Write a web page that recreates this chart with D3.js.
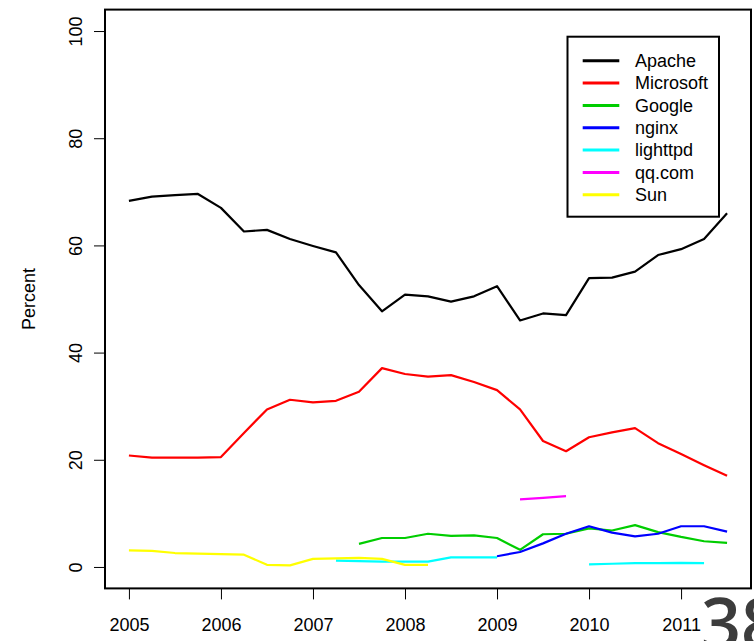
<!DOCTYPE html>
<html><head><meta charset="utf-8">
<script src="https://cdn.jsdelivr.net/npm/d3@7"></script>
<style>body{margin:0;background:#fff}svg{display:block}</style>
</head><body>
<svg id="c" width="754" height="641"></svg>
<script>
// Quarterly dates 2005.0 .. 2011.5
const quarters = [2005.0,2005.25,2005.5,2005.75,2006.0,2006.25,2006.5,2006.75,2007.0,2007.25,2007.5,2007.75,2008.0,2008.25,2008.5,2008.75,2009.0,2009.25,2009.5,2009.75,2010.0,2010.25,2010.5,2010.75,2011.0,2011.25,2011.5];
const apache    = [68.3,69.1,69.4,69.6,67.0,62.6,62.9,61.2,59.9,58.7,52.6,47.7,50.8,50.5,49.5,50.5,52.4,46.0,47.3,47.0,53.9,54.0,55.1,58.2,59.3,61.2,66.0];
const microsoft = [20.8,20.4,20.4,20.4,20.5,25.0,29.4,31.2,30.7,31.0,32.7,37.1,36.0,35.5,35.8,34.5,33.0,29.4,23.5,21.6,24.2,25.1,25.9,23.1,21.1,19.0,17.0];
const google    = [null,null,null,null,null,null,null,null,null,null,4.3,5.4,5.4,6.2,5.8,5.9,5.4,3.2,6.1,6.2,7.2,6.8,7.8,6.5,5.6,4.8,4.5];
const nginx     = [null,null,null,null,null,null,null,null,null,null,null,null,null,null,null,null,2.0,2.8,4.4,6.2,7.6,6.4,5.7,6.2,7.6,7.6,6.6];
const lighttpd  = [null,null,null,null,null,null,null,null,null,1.2,1.1,1.0,1.0,1.0,1.8,1.8,1.8,null,null,null,0.5,0.6,0.7,0.7,0.75,0.7,null];
const qqcom     = [null,null,null,null,null,null,null,null,null,null,null,null,null,null,null,null,null,12.6,12.9,13.2,null,null,null,null,null,null,null];
const sun       = [3.1,3.0,2.6,2.5,2.4,2.3,0.4,0.3,1.5,1.6,1.7,1.5,0.4,0.4,null,null,null,null,null,null,null,null,null,null,null,null,null];
const seriesNames = ["Apache","Microsoft","Google","nginx","lighttpd","qq.com","Sun"];
const seriesColors = ["#000000","#ff0000","#00cd00","#0000ff","#00ffff","#ff00ff","#ffff00"];
const xTicks = [2005,2006,2007,2008,2009,2010,2011];
const yTicks = [0,20,40,60,80,100];
const yLabel = "Percent";
const pageNumber = "38";

const allSeries = [apache,microsoft,google,nginx,lighttpd,qqcom,sun];
const svg = d3.select("#c");
const font = "'Liberation Sans', Arial, Helvetica, sans-serif";
const L = 105, R = 751, T = 9.6, B = 588.4;
const xr = quarters[quarters.length-1] - quarters[0];
const x = d3.scaleLinear().domain([quarters[0]-0.04*xr, quarters[quarters.length-1]+0.04*xr]).range([L,R]);
const y = d3.scaleLinear().domain([-4,104]).range([B,T]);

const line = d3.line().defined(d => d.v !== null).x(d => x(d.t)).y(d => y(d.v));
allSeries.forEach((s,i) => {
  svg.append("path")
    .datum(s.map((v,j) => ({t: quarters[j], v})))
    .attr("d", line).attr("fill","none")
    .attr("stroke", seriesColors[i]).attr("stroke-width", 2.2)
    .attr("stroke-linejoin","round");
});

// box
svg.append("rect").attr("x",L).attr("y",T).attr("width",R-L).attr("height",B-T)
  .attr("fill","none").attr("stroke","#000").attr("stroke-width",2);

// x axis
const gx = svg.append("g").attr("transform",`translate(0,${B})`)
  .call(d3.axisBottom(x).tickValues(xTicks).tickFormat(d3.format("d")).tickSize(11).tickSizeOuter(0));
gx.select(".domain").remove();
gx.selectAll(".tick line").attr("stroke","#000").attr("stroke-width",1);
gx.selectAll(".tick text").attr("y",42.6).attr("dy",null)
  .attr("font-family",font).attr("font-size",18).attr("fill","#000");

// y axis
const gy = svg.append("g").attr("transform",`translate(${L},0)`)
  .call(d3.axisLeft(y).tickValues(yTicks).tickSize(11).tickSizeOuter(0));
gy.select(".domain").remove();
gy.selectAll(".tick line").attr("stroke","#000").attr("stroke-width",1);
gy.selectAll(".tick text").attr("x",null).attr("dy",null).attr("text-anchor","middle")
  .attr("transform","translate(-23,0) rotate(-90)")
  .attr("font-family",font).attr("font-size",18).attr("fill","#000");

svg.append("text").attr("transform",`translate(35,${(T+B)/2}) rotate(-90)`)
  .attr("text-anchor","middle").attr("font-family",font).attr("font-size",18).text(yLabel);

// legend
const lg = svg.append("g");
lg.append("rect").attr("x",567.5).attr("y",36.7).attr("width",151.5).attr("height",180)
  .attr("fill","#fff").attr("stroke","#000").attr("stroke-width",2);
seriesNames.forEach((n,i) => {
  const ly = 60.7 + i*22.35;
  lg.append("line").attr("x1",582.7).attr("x2",619.3).attr("y1",ly).attr("y2",ly)
    .attr("stroke",seriesColors[i]).attr("stroke-width",3);
  lg.append("text").attr("x",635).attr("y",ly).attr("dy","0.35em")
    .attr("font-family",font).attr("font-size",18).text(n);
});

// page number overlay (cut off at the page edge, as in the reference)
svg.append("text").attr("x",701).attr("y",649).attr("font-family","'Open Sans', 'DejaVu Sans', sans-serif")
  .attr("font-size",70).attr("font-weight",600).attr("fill","#3c3c3c").text(pageNumber);
</script>
</body></html>
